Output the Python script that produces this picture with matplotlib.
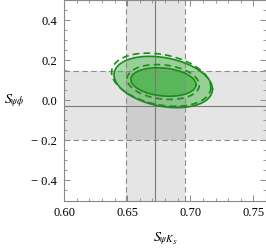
import numpy as np
import matplotlib
matplotlib.use("Agg")
import matplotlib.pyplot as plt
from matplotlib.ticker import MultipleLocator

plt.rcParams["font.family"] = "Liberation Serif"
plt.rcParams["mathtext.fontset"] = "stix"

# axis ranges
x_lim = [0.60, 0.76]
y_lim = [-0.5, 0.5]
x_ticks = [0.60, 0.65, 0.70, 0.75]
x_ticklabels = ["0.60", "0.65", "0.70", "0.75"]
y_ticks = [-0.4, -0.2, 0.0, 0.2, 0.4]
y_ticklabels = ["\u2212 0.4", "\u2212 0.2", "0.0", "0.2", "0.4"]

# experimental bands (1 sigma) and central values
s_psiks_band = [0.649, 0.6955]
s_psiks_central = 0.672
s_psiphi_band = [-0.20, 0.147]
s_psiphi_central = -0.03

# allowed regions: center x, center y, half width x, half width y, correlation
solid_1sig = [0.6787, 0.091, 0.0258, 0.071, -0.18]
solid_2sig = [0.6786, 0.091, 0.0390, 0.128, -0.28]
dashed_1sig = [0.6786, 0.091, 0.0286, 0.087, -0.18]
dashed_2sig = [0.6770, 0.1025, 0.0393, 0.1325, -0.28]


def contour(p, n=200):
    cx, cy, sx, sy, rho = p
    t = np.linspace(0, 2 * np.pi, n)
    d = np.arccos(rho)
    return cx + sx * np.cos(t), cy + sy * np.cos(t + d)


fig = plt.figure(figsize=(2.66, 2.5), dpi=100)
ax = fig.add_axes([64 / 266, 49.5 / 250, 1 - 64 / 266, 1 - 49.5 / 250])

ax.axvspan(*s_psiks_band, color="k", alpha=0.1, lw=0)
ax.axhspan(*s_psiphi_band, color="k", alpha=0.1, lw=0)
for v in s_psiks_band:
    ax.axvline(v, color="#8c8c8c", lw=0.8, ls=(0, (5, 3)))
for v in s_psiphi_band:
    ax.axhline(v, color="#8c8c8c", lw=0.8, ls=(0, (5, 3)))
ax.axvline(s_psiks_central, color="#7a7a7a", lw=0.8)
ax.axhline(s_psiphi_central, color="#7a7a7a", lw=0.8)

green = "#1b8c1b"
x, y = contour(solid_2sig)
ax.fill(x, y, color="#3cb43c", alpha=0.45, lw=0)
ax.plot(x, y, color=green, lw=1.2)
x, y = contour(solid_1sig)
ax.fill(x, y, color="#30b030", alpha=0.55, lw=0)
ax.plot(x, y, color=green, lw=1.2)
x, y = contour(dashed_2sig)
ax.plot(x, y, color=green, lw=1.2, ls=(0, (4, 2.5)))
x, y = contour(dashed_1sig)
ax.plot(x, y, color=green, lw=1.2, ls=(0, (4, 2.5)))

ax.set_xlim(x_lim)
ax.set_ylim(y_lim)
ax.set_xticks(x_ticks)
ax.set_xticklabels(x_ticklabels)
ax.set_yticks(y_ticks)
ax.set_yticklabels(y_ticklabels)
ax.xaxis.set_minor_locator(MultipleLocator(0.01))
ax.yaxis.set_minor_locator(MultipleLocator(0.05))
ax.tick_params(which="both", direction="in", top=True, right=True,
               color="#888888", labelsize=9, pad=5)
ax.tick_params(which="major", length=4, width=0.7)
ax.tick_params(which="minor", length=2, width=0.6)
for s in ax.spines.values():
    s.set_color("#888888")
    s.set_linewidth(0.8)

ax.set_xlabel(r"$S_{\psi K_S}$", fontsize=10, labelpad=8)
ax.set_ylabel(r"$S_{\psi\phi}$", fontsize=10, rotation=0, labelpad=12, va="center")

fig.savefig("out.png", dpi=100)
